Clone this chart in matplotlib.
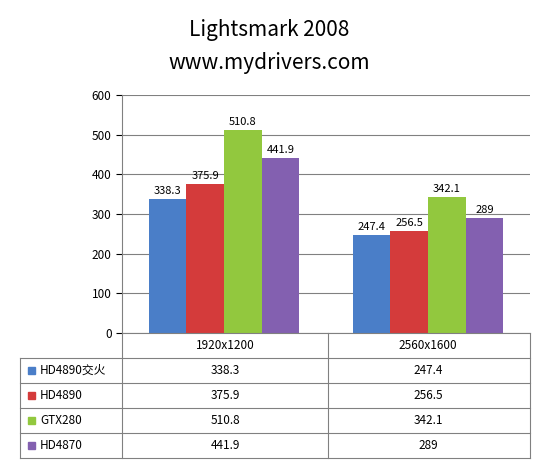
import numpy as np
import matplotlib.pyplot as plt
from matplotlib.lines import Line2D
from matplotlib.patches import Rectangle

plt.rcParams['font.family'] = ['Noto Sans CJK SC', 'DejaVu Sans']

categories = ['1920x1200', '2560x1600']
series = ['HD4890交火', 'HD4890', 'GTX280', 'HD4870']
values = [[338.3, 247.4], [375.9, 256.5], [510.8, 342.1], [441.9, 289]]
labels = [['338.3', '247.4'], ['375.9', '256.5'], ['510.8', '342.1'], ['441.9', '289']]
colors = ['#4A7EC8', '#D43B3B', '#92C83E', '#8360B0']

W, H = 550, 469
fig = plt.figure(figsize=(5.5, 4.69), dpi=100)
fig.patch.set_facecolor('white')

def fx(px): return px / W
def fy(py): return 1 - py / H

ax = fig.add_axes([fx(122), fy(333), fx(530) - fx(122), fy(95) - fy(333)])
x = np.arange(len(categories))
bw = 38 / 206
for i, (s, v) in enumerate(zip(series, values)):
    pos = x + (i - 1.5) * bw
    ax.bar(pos, v, bw, color=colors[i], edgecolor='none')
    for p, val, lab in zip(pos, v, labels[i]):
        ax.text(p, val + 8, lab, ha='center', va='bottom', fontsize=8)
ax.set_xlim(-0.5, 1.5)
ax.set_ylim(0, 600)
ax.set_yticks(range(0, 601, 100))
ax.tick_params(axis='y', labelsize=8.5, length=4, direction='out')
ax.set_xticks([])
ax.grid(axis='y', color='#808080', linewidth=0.8)
ax.set_axisbelow(True)
for sp in ['top', 'right', 'bottom']:
    ax.spines[sp].set_visible(False)
ax.spines['left'].set_color('#808080')

fig.text(0.49, fy(30), 'Lightsmark 2008', ha='center', va='center', fontsize=15)
fig.text(0.49, fy(63), 'www.mydrivers.com', ha='center', va='center', fontsize=15)

# data table
lc = '#808080'
rows_y = [333, 358, 383, 408, 433, 458]
for ry in rows_y[1:]:
    fig.add_artist(Line2D([fx(20), fx(530)], [fy(ry), fy(ry)], color=lc, lw=0.8))
fig.add_artist(Line2D([fx(122), fx(530)], [fy(333), fy(333)], color=lc, lw=0.8))
fig.add_artist(Line2D([fx(20), fx(20)], [fy(358), fy(458)], color=lc, lw=0.8))
for cx in [122, 328, 530]:
    fig.add_artist(Line2D([fx(cx), fx(cx)], [fy(333), fy(458)], color=lc, lw=0.8))
for j, c in enumerate(categories):
    fig.text(fx(225 + 203 * j), fy(345.5), c, ha='center', va='center', fontsize=8.5)
for i, s in enumerate(series):
    cy = (rows_y[i + 1] + rows_y[i + 2]) / 2
    fig.add_artist(Rectangle((fx(28), fy(cy + 3.5)), fx(7), fy(cy - 3.5) - fy(cy + 3.5),
                             color=colors[i]))
    fig.text(fx(40), fy(cy), s, ha='left', va='center', fontsize=8.5)
    for j in range(len(categories)):
        fig.text(fx(225 + 203 * j), fy(cy), labels[i][j], ha='center', va='center', fontsize=8.5)

fig.savefig('out.png', dpi=100)
